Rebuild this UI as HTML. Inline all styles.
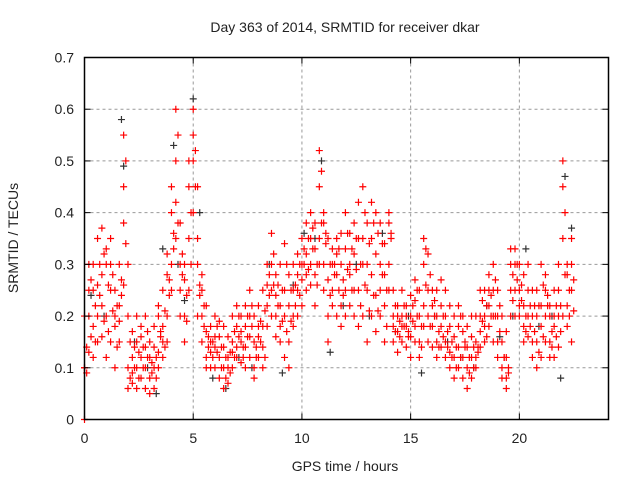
<!DOCTYPE html>
<html><head><meta charset="utf-8"><style>
body{margin:0;background:#fff}
svg{display:block;font-family:"Liberation Sans",sans-serif}
</style></head><body>
<svg id="chart" width="640" height="480" viewBox="0 0 640 480">
<text x="345" y="32" font-size="14" text-anchor="middle" fill="#222">Day 363 of 2014, SRMTID for receiver dkar</text>
<text transform="translate(18,238) rotate(-90)" font-size="14" text-anchor="middle" fill="#222">SRMTID / TECUs</text>
<text x="345" y="471" font-size="14" text-anchor="middle" fill="#222">GPS time / hours</text>
<g id="grid"></g>
<g id="marks"></g>
<rect x="84.5" y="57.5" width="524" height="362" fill="none" stroke="#000" stroke-width="1.5"/>
<g id="ticks"></g>
</svg>
<script>
const xTicks=[0,5,10,15,20];
const yTicks=[0,0.1,0.2,0.3,0.4,0.5,0.6,0.7];
const yTickLabels=["0","0.1","0.2","0.3","0.4","0.5","0.6","0.7"];
const hours=[0,0.2,0.4,0.6,0.8,1.0,1.2,1.4,1.6,1.8,2.0,2.2,2.4,2.6,2.8,3.0,3.2,3.4,3.6,3.8,4.0,4.2,4.4,4.6,4.8,5.0,5.2,5.4,5.6,5.8,6.0,6.2,6.4,6.6,6.8,7.0,7.2,7.4,7.6,7.8,8.0,8.2,8.4,8.6,8.8,9.0,9.2,9.4,9.6,9.8,10.0,10.2,10.4,10.6,10.8,11.0,11.2,11.4,11.6,11.8,12.0,12.2,12.4,12.6,12.8,13.0,13.2,13.4,13.6,13.8,14.0,14.2,14.4,14.6,14.8,15.0,15.2,15.4,15.6,15.8,16.0,16.2,16.4,16.6,16.8,17.0,17.2,17.4,17.6,17.8,18.0,18.2,18.4,18.6,18.8,19.0,19.2,19.4,19.6,19.8,20.0,20.2,20.4,20.6,20.8,21.0,21.2,21.4,21.6,21.8,22.0,22.2,22.4];
const hours2=[0.1,0.3,0.5,0.7,0.9,1.1,1.3,1.5,1.7,1.9,2.1,2.3,2.5,2.7,2.9,3.1,3.3,3.5,3.7,3.9,4.1,4.3,4.5,4.7,4.9,5.1,5.3,5.5,5.7,5.9,6.1,6.3,6.5,6.7,6.9,7.1,7.3,7.5,7.7,7.9,8.1,8.3,8.5,8.7,8.9,9.1,9.3,9.5,9.7,9.9,10.1,10.3,10.5,10.7,10.9,11.1,11.3,11.5,11.7,11.9,12.1,12.3,12.5,12.7,12.9,13.1,13.3,13.5,13.7,13.9,14.1,14.3,14.5,14.7,14.9,15.1,15.3,15.5,15.7,15.9,16.1,16.3,16.5,16.7,16.9,17.1,17.3,17.5,17.7,17.9,18.1,18.3,18.5,18.7,18.9,19.1,19.3,19.5,19.7,19.9,20.1,20.3,20.5,20.7,20.9,21.1,21.3,21.5,21.7,21.9,22.1,22.3,22.5];
const redA=[0,0.13,0.18,0.2,0.22,0.12,0.15,0.1,0.19,0.45,0.06,0.07,0.1,0.12,0.1,0.05,0.1,0.13,0.15,0.2,0.3,0.5,0.3,0.2,0.35,0.55,0.45,0.2,0.12,0.15,0.14,0.08,0.06,0.07,0.1,0.12,0.15,0.18,0.16,0.1,0.12,0.18,0.22,0.25,0.2,0.15,0.12,0.15,0.18,0.2,0.27,0.25,0.3,0.28,0.45,0.3,0.2,0.25,0.2,0.22,0.25,0.22,0.2,0.25,0.2,0.15,0.2,0.17,0.25,0.22,0.3,0.15,0.17,0.15,0.18,0.16,0.18,0.15,0.3,0.25,0.18,0.15,0.18,0.2,0.13,0.12,0.14,0.12,0.1,0.12,0.15,0.17,0.2,0.22,0.25,0.12,0.1,0.08,0.25,0.3,0.2,0.18,0.25,0.2,0.1,0.12,0.2,0.15,0.12,0.2,0.35,0.22,0.25];
const redB=[0.1,0.3,0.3,0.35,0.28,0.3,0.25,0.2,0.3,0.55,0.1,0.12,0.15,0.08,0.06,0.15,0.18,0.2,0.25,0.28,0.45,0.6,0.25,0.3,0.45,0.6,0.35,0.15,0.17,0.1,0.2,0.12,0.1,0.12,0.15,0.18,0.2,0.1,0.12,0.15,0.18,0.25,0.26,0.36,0.16,0.22,0.2,0.1,0.25,0.28,0.3,0.32,0.35,0.33,0.52,0.38,0.27,0.3,0.28,0.3,0.33,0.3,0.32,0.35,0.3,0.25,0.28,0.24,0.3,0.28,0.38,0.2,0.22,0.2,0.22,0.2,0.23,0.2,0.35,0.32,0.22,0.2,0.22,0.15,0.18,0.16,0.1,0.17,0.14,0.16,0.12,0.14,0.15,0.28,0.3,0.2,0.15,0.12,0.3,0.25,0.25,0.22,0.3,0.15,0.15,0.18,0.25,0.2,0.18,0.25,0.45,0.28,0.3];
const redC=[0.2,0.2,0.25,0.15,0.16,0.2,0.3,0.25,0.22,0.26,0.3,0.17,0.06,0.16,0.14,0.12,0.14,0.1,0.18,0.15,0.25,0.35,0.38,0.27,0.5,0.5,0.3,0.28,0.22,0.13,0.1,0.19,0.14,0.16,0.2,0.14,0.17,0.14,0.2,0.2,0.16,0.14,0.3,0.2,0.28,0.18,0.25,0.22,0.2,0.25,0.35,0.28,0.26,0.38,0.3,0.25,0.35,0.33,0.35,0.36,0.4,0.36,0.38,0.42,0.45,0.38,0.35,0.32,0.38,0.34,0.25,0.18,0.13,0.25,0.14,0.24,0.15,0.25,0.22,0.2,0.14,0.25,0.27,0.25,0.22,0.2,0.18,0.08,0.18,0.2,0.2,0.2,0.25,0.18,0.2,0.15,0.2,0.17,0.33,0.2,0.3,0.28,0.2,0.12,0.2,0.22,0.15,0.22,0.2,0.3,0.5,0.3,0.35];
const redD=[0.1,0.25,0.12,0.26,0.37,0.33,0.35,0.18,0.15,0.38,0.2,0.09,0.2,0.18,0.2,0.08,0.06,0.22,0.12,0.32,0.4,0.42,0.2,0.15,0.25,0.4,0.2,0.25,0.1,0.18,0.16,0.16,0.18,0.1,0.13,0.22,0.11,0.22,0.25,0.08,0.22,0.1,0.18,0.3,0.24,0.3,0.34,0.28,0.3,0.32,0.22,0.38,0.4,0.22,0.35,0.4,0.15,0.22,0.32,0.18,0.2,0.28,0.25,0.18,0.35,0.3,0.42,0.4,0.2,0.15,0.4,0.25,0.2,0.18,0.2,0.12,0.27,0.12,0.18,0.15,0.25,0.12,0.14,0.12,0.1,0.08,0.22,0.2,0.06,0.08,0.1,0.25,0.18,0.25,0.15,0.25,0.08,0.06,0.2,0.33,0.22,0.15,0.16,0.25,0.25,0.3,0.28,0.12,0.25,0.14,0.2,0.18,0.15];
const redE=[0.14,0.16,0.22,0.24,0.19,0.17,0.21,0.14,0.27,0.5,0.08,0.1,0.13,0.1,0.12,0.09,0.12,0.16,0.21,0.24,0.36,0.55,0.32,0.24,0.4,0.52,0.26,0.18,0.14,0.12,0.13,0.1,0.08,0.09,0.12,0.16,0.14,0.16,0.18,0.12,0.15,0.21,0.24,0.32,0.22,0.19,0.17,0.19,0.22,0.24,0.3,0.29,0.33,0.3,0.48,0.34,0.24,0.28,0.25,0.27,0.29,0.25,0.29,0.3,0.26,0.21,0.24,0.21,0.28,0.25,0.35,0.17,0.19,0.18,0.17,0.19,0.2,0.18,0.33,0.28,0.2,0.17,0.2,0.17,0.15,0.14,0.12,0.14,0.12,0.14,0.13,0.19,0.22,0.24,0.27,0.17,0.12,0.1,0.28,0.27,0.23,0.2,0.22,0.17,0.13,0.16,0.22,0.17,0.16,0.22,0.4,0.25,0.27];
const redF=[0.09,0.27,0.15,0.3,0.32,0.26,0.28,0.22,0.24,0.34,0.15,0.14,0.08,0.14,0.17,0.11,0.08,0.17,0.14,0.27,0.33,0.38,0.28,0.19,0.3,0.45,0.24,0.22,0.16,0.15,0.18,0.14,0.12,0.13,0.17,0.2,0.12,0.2,0.22,0.14,0.19,0.12,0.28,0.26,0.26,0.25,0.3,0.25,0.26,0.3,0.33,0.35,0.37,0.26,0.38,0.36,0.3,0.3,0.33,0.24,0.36,0.33,0.35,0.22,0.4,0.34,0.38,0.36,0.34,0.18,0.36,0.22,0.16,0.22,0.16,0.22,0.25,0.14,0.26,0.18,0.23,0.14,0.16,0.14,0.12,0.1,0.2,0.15,0.09,0.1,0.14,0.23,0.16,0.2,0.2,0.22,0.12,0.09,0.23,0.3,0.26,0.17,0.18,0.22,0.22,0.26,0.24,0.14,0.22,0.17,0.28,0.2,0.21];
const blackX=[0.3,0.9,1.7,1.8,2.3,2.9,3.3,3.6,4.1,4.3,4.6,5.0,5.3,5.9,6.5,7.1,7.7,8.5,9.1,9.6,10.1,10.6,10.9,11.3,11.9,12.5,13.1,13.7,14.3,14.9,15.5,16.1,16.7,17.3,17.9,18.5,19.1,19.7,20.3,20.9,21.5,21.9,22.1,22.4];
const blackY=[0.24,0.2,0.58,0.49,0.15,0.1,0.05,0.33,0.53,0.3,0.23,0.62,0.4,0.08,0.06,0.12,0.1,0.3,0.09,0.26,0.36,0.35,0.5,0.13,0.22,0.3,0.2,0.36,0.17,0.2,0.09,0.2,0.15,0.12,0.1,0.22,0.16,0.2,0.33,0.18,0.2,0.08,0.47,0.37];

const X0=84.5,X1=608.5,Y0=419.5,Y1=57.5,XMAX=24.1,YMAX=0.7;
function sx(v){return X0+(v/XMAX)*(X1-X0);}
function sy(v){return Y0-(v/YMAX)*(Y0-Y1);}
const NS="http://www.w3.org/2000/svg";
const grid=document.getElementById('grid'),ticks=document.getElementById('ticks'),marks=document.getElementById('marks');
function mk(tag,attrs,parent){const e=document.createElementNS(NS,tag);for(const k in attrs)e.setAttribute(k,attrs[k]);parent.appendChild(e);return e;}
xTicks.forEach((t,i)=>{
  const x=sx(t);
  if(t>0){const g=mk('line',{x1:x,x2:x,y1:Y1,y2:Y0,stroke:'#999','stroke-dasharray':'3,3'},grid);
  
  }
  const a=mk('line',{x1:x,x2:x,y1:Y0,y2:Y0-6,stroke:'#000'},ticks);
  
  
  const b=mk('line',{x1:x,x2:x,y1:Y1,y2:Y1+6,stroke:'#000'},ticks);
  
  
  const l=mk('text',{x:x,y:443,'font-size':14,'text-anchor':'middle',fill:'#222'},ticks);
  l.textContent=String(t);
  
  
});
yTicks.forEach((t,i)=>{
  const y=sy(t);
  if(t>0&&t<YMAX){const g=mk('line',{x1:X0,x2:X1,y1:y,y2:y,stroke:'#999','stroke-dasharray':'3,3'},grid);
  
  }
  const a=mk('line',{x1:X0,x2:X0+6,y1:y,y2:y,stroke:'#000'},ticks);
  
  
  const b=mk('line',{x1:X1,x2:X1-6,y1:y,y2:y,stroke:'#000'},ticks);
  
  
  const l=mk('text',{x:74,y:y+5,'font-size':14,'text-anchor':'end',fill:'#222'},ticks);
  l.textContent=yTickLabels[i];
  
  
});
function cross(x,y,color,name){
  const p=mk('path',{d:`M${x-3.5},${y}H${x+3.5}M${x},${y-3.5}V${y+3.5}`,stroke:color,'stroke-width':1.2,fill:'none'},marks);
  
  
}
blackX.forEach((h,i)=>cross(sx(h),sy(blackY[i]),'#333','black-point'));
[redA,redB,redC,redD].forEach(series=>{
  series.forEach((v,i)=>cross(sx(hours[i]),sy(v),'#f00','red-point'));
});
[redE,redF].forEach(series=>{
  series.forEach((v,i)=>cross(sx(hours2[i]),sy(v),'#f00','red-point'));
});
</script>
</body></html>
